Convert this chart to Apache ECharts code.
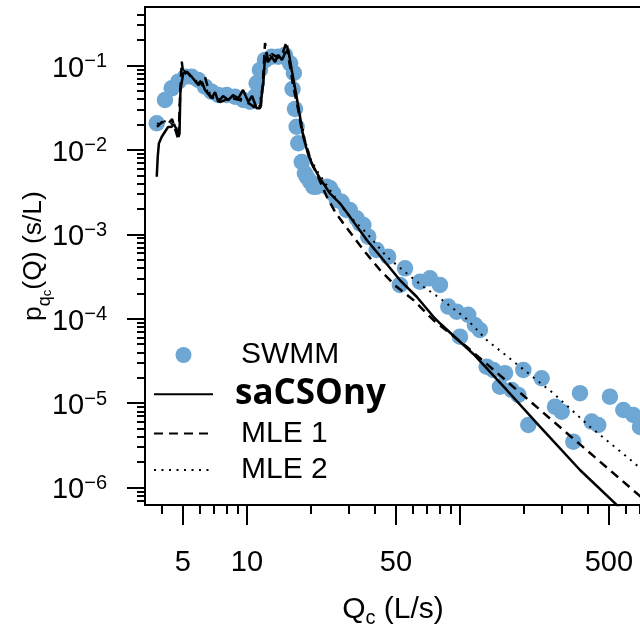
<!DOCTYPE html>
<html>
<head>
<meta charset="utf-8">
<script src="https://cdn.jsdelivr.net/npm/echarts@6/dist/echarts.min.js"></script>
<style>
  html, body { margin: 0; padding: 0; background: #fff; }
  #main { width: 640px; height: 631px; }
</style>
</head>
<body>
<div id="main"></div>
<script>
// axis ranges
const xMin = 3.32, xMax = 1339;
const yMin = 6.2e-7, yMax = 0.4934;

// ticks
const xMajorTicks = [5, 10, 50, 100, 500];
const xLabelValues = [5, 10, 50, 500];
const xMinorTicks = [4, 6, 7, 8, 9, 20, 30, 40, 60, 70, 80, 90, 200, 300, 400, 600, 700, 800, 900];
const yMajorTicks = [1e-1, 1e-2, 1e-3, 1e-4, 1e-5, 1e-6];
const yExponents = ['−1', '−2', '−3', '−4', '−5', '−6'];
const yMinorMantissa = [2, 3, 4, 5, 6, 7, 8, 9];

// SWMM simulated points
const swmmQ = [3.77, 4.12, 4.43, 4.76, 5.12, 5.50, 5.91, 6.35, 6.82, 7.33, 8.03, 8.78, 9.61, 10.33, 10.9, 11.1, 11.5, 12.15, 13.06, 14.03,
  15.07, 15.93, 16.6, 16.36, 16.8, 17.1, 17.4, 18.07, 18.7, 19.1, 19.8, 20.5, 21.2, 23.7, 24.5, 25.4, 26.4, 27.8, 29.4, 30.4,
  32.7, 33.9, 35.2, 37.1, 40.6, 46.0, 52.2, 55.2, 64.9, 72.3, 80.5, 88.1, 96.5, 100, 109.3, 117.5, 124, 133.4, 143.3, 154,
  162.7, 174.9, 187.9, 198.3, 209.3, 241.8, 279.3, 300.3, 340.4, 365.9, 415.3, 445.9, 505.8, 584.6, 651, 700];
const swmmP = [0.0207, 0.039, 0.0537, 0.0643, 0.0736, 0.0736, 0.0673, 0.0561, 0.049, 0.0447, 0.0447, 0.0427, 0.039, 0.0372, 0.0427, 0.0615, 0.0885, 0.116, 0.127, 0.127,
  0.133, 0.106, 0.0815, 0.0527, 0.0305, 0.0188, 0.012, 0.00719, 0.00528, 0.00477, 0.0042, 0.00366, 0.00366, 0.00366, 0.00354, 0.00306, 0.00255, 0.00243, 0.00194, 0.00194,
  0.00155, 0.00135, 0.00129, 0.000938, 0.000652, 0.000543, 0.000251, 0.000395, 0.000274, 0.000301, 0.000251, 0.000139, 0.000121, 0.0000612, 0.000111, 0.0000841, 0.0000734, 0.000027, 0.0000247, 0.0000156,
  0.0000226, 0.0000143, 0.0000125, 0.0000247, 0.0000055, 0.0000197, 0.00000906, 0.00000791, 0.00000349, 0.0000131, 0.00000603, 0.0000055, 0.0000119, 0.00000828, 0.00000723, 0.00000521];

// saCSOny
const sacQ = [3.77, 3.81, 3.86, 3.98, 4.12, 4.26, 4.43, 4.54, 4.68, 4.76, 4.82, 4.87, 5.02, 5.21, 5.50, 5.91, 6.15, 6.35, 6.82, 7.08,
  7.33, 7.72, 8.17, 8.60, 9.10, 9.58, 10.14, 10.56, 11.1, 11.5, 11.93, 12.15, 12.55, 13.06, 13.54, 14.03, 14.59, 15.07, 15.63, 16.22,
  17.1, 17.74, 18.38, 19.4, 20.5, 22.0, 24.5, 27.3, 30.4, 36.5, 43.7, 52.2, 62.6, 74.9, 80.5, 115.5, 165.7, 237.4, 365.9, 544, 780];
const sacP = [0.00481, 0.00831, 0.012, 0.0143, 0.0164, 0.0187, 0.0188, 0.0203, 0.0172, 0.0143, 0.0154, 0.0513, 0.0808, 0.0844, 0.0736, 0.0587, 0.0637, 0.0513, 0.0409, 0.0485,
  0.0372, 0.0435, 0.039, 0.0447, 0.0409, 0.0513, 0.0372, 0.0435, 0.0311, 0.0311, 0.0615, 0.127, 0.110, 0.127, 0.110, 0.133, 0.116, 0.139, 0.153, 0.0885,
  0.0427, 0.0247, 0.0143, 0.0087, 0.00632, 0.00461, 0.00306, 0.00233, 0.00162, 0.000856, 0.000496, 0.000287, 0.000182, 0.000106, 0.0000882, 0.0000382, 0.0000143, 0.00000525, 0.00000161, 0.000000621, 0.000000239];

// MLE 1
const mle1Q = [3.78, 3.99, 4.26, 4.45, 4.64, 4.77, 4.85, 4.94, 5.03, 5.23, 5.52, 5.89, 6.35, 6.71, 7.47, 8.32, 9.27, 10.33, 11.26, 11.63,
  11.89, 12.15, 12.55, 13.1, 13.98, 14.76, 15.36, 15.74, 16.22, 16.5, 17.4, 18.07, 19.07, 20.1, 21.2, 22.4, 23.7, 25.9, 28.3, 35.2,
  42.1, 50.4, 60.4, 74.9, 107.5, 191.3, 365.9, 700, 968];
const mle1P = [0.0187, 0.0214, 0.0203, 0.0232, 0.0163, 0.0131, 0.0447, 0.111, 0.0772, 0.0838, 0.0711, 0.0604, 0.0736, 0.0435, 0.0369, 0.0412, 0.039, 0.035, 0.0297, 0.0331,
  0.0673, 0.185, 0.116, 0.137, 0.123, 0.145, 0.191, 0.116, 0.0736, 0.0561, 0.0297, 0.0172, 0.0109, 0.00693, 0.00528, 0.00384, 0.00279, 0.00185, 0.00135, 0.000652,
  0.000378, 0.000239, 0.000167, 0.0000965, 0.0000466, 0.0000133, 0.00000324, 0.000000791, 0.00000039];

// MLE 2
const mle2Q = [3.78, 4.03, 4.35, 4.59, 4.77, 4.85, 5.01, 5.28, 5.70, 6.21, 6.85, 7.63, 8.50, 9.47, 10.56, 11.38, 11.89, 12.28, 13.1, 14.13,
  15.07, 15.74, 16.27, 16.98, 17.74, 18.7, 19.8, 21.2, 24.5, 29.4, 36.5, 45.3, 56.2, 67.3, 80.5, 107.5, 133.4, 191.3, 274, 407.6,
  606, 869];
const mle2P = [0.0203, 0.022, 0.0214, 0.0182, 0.0146, 0.0485, 0.0885, 0.0793, 0.0673, 0.0571, 0.0435, 0.039, 0.0424, 0.0401, 0.036, 0.0314, 0.0637, 0.145, 0.126, 0.133,
  0.145, 0.13, 0.0838, 0.0435, 0.0259, 0.0131, 0.00802, 0.00578, 0.00335, 0.00177, 0.00103, 0.000543, 0.000345, 0.000239, 0.000175, 0.0000992, 0.000056, 0.000027, 0.0000131, 0.00000525,
  0.00000232, 0.00000107];

const FONT = "'Liberation Sans', Arial, sans-serif";
const BLUE = '#6ea7d3';

function pairs(xs, ys) {
  return xs.map(function (x, i) { return [x, ys[i]]; });
}

const yMinorTicks = [];
for (let k = -7; k <= -1; k++) {
  yMinorMantissa.forEach(function (m) {
    const v = m * Math.pow(10, k);
    if (v > yMin && v < yMax) yMinorTicks.push(v);
  });
}

function yLabel(v) {
  const i = yMajorTicks.findIndex(function (t) {
    return Math.abs(Math.log10(t) - Math.log10(v)) < 1e-6;
  });
  return i < 0 ? '' : '{b|10}{s|' + yExponents[i] + '}';
}

const chart = echarts.init(document.getElementById('main'), null, { renderer: 'canvas' });

const tickStyle = { color: '#000', width: 2 };
// hide the symbol that line series put in their legend icon
const noSymbol = { opacity: 0 };

const option = {
  animation: false,
  backgroundColor: '#fff',
  grid: {
    left: 145, top: 7, width: 555, height: 498,
    outerBoundsMode: 'none', containLabel: false,
    show: true, borderColor: '#000', borderWidth: 2, backgroundColor: 'transparent'
  },
  xAxis: [
    {
      type: 'log', logBase: 10, min: xMin, max: xMax, position: 'bottom',
      axisLine: { show: false },
      splitLine: { show: false },
      axisTick: { show: true, length: 20, lineStyle: tickStyle, customValues: xMajorTicks },
      axisLabel: {
        show: true, customValues: xLabelValues, margin: 43,
        fontFamily: FONT, fontSize: 29, lineHeight: 29, color: '#000',
        formatter: function (v) { return String(Math.round(v)); }
      }
    },
    {
      type: 'log', logBase: 10, min: xMin, max: xMax, position: 'bottom',
      axisLine: { show: false },
      splitLine: { show: false },
      axisTick: { show: true, length: 9, lineStyle: tickStyle, customValues: xMinorTicks },
      axisLabel: { show: false }
    }
  ],
  yAxis: [
    {
      type: 'log', logBase: 10, min: yMin, max: yMax, position: 'left',
      axisLine: { show: false },
      splitLine: { show: false },
      axisTick: { show: true, length: 18, lineStyle: tickStyle, customValues: yMajorTicks },
      axisLabel: {
        show: true, customValues: yMajorTicks, margin: 38,
        padding: [6, 0, 0, 0],
        formatter: yLabel,
        rich: {
          b: { fontFamily: FONT, fontSize: 29, lineHeight: 34, color: '#000' },
          s: { fontFamily: FONT, fontSize: 20, lineHeight: 20, verticalAlign: 'top', color: '#000' }
        }
      }
    },
    {
      type: 'log', logBase: 10, min: yMin, max: yMax, position: 'left',
      axisLine: { show: false },
      splitLine: { show: false },
      axisTick: { show: true, length: 8, lineStyle: tickStyle, customValues: yMinorTicks },
      axisLabel: { show: false }
    }
  ],
  legend: {
    orient: 'vertical', left: 153, top: 340, padding: 0,
    itemWidth: 59, itemHeight: 16, itemGap: 6.7,
    selectedMode: false,
    data: [
      { name: 'SWMM' },
      { name: 'saCSOny', itemStyle: noSymbol },
      { name: 'MLE 1', itemStyle: noSymbol },
      { name: 'MLE 2', itemStyle: noSymbol }
    ],
    formatter: function (name) {
      return name === 'saCSOny' ? '{b|' + name + '}' : '{n|' + name + '}';
    },
    textStyle: {
      fontFamily: FONT, fontSize: 30, lineHeight: 30, color: '#000',
      rich: {
        n: { fontFamily: FONT, fontSize: 30, lineHeight: 30, color: '#000', padding: [0, 0, 0, 23] },
        b: { fontFamily: "'Open Sans', sans-serif", fontWeight: 'bold', fontSize: 35, lineHeight: 30, color: '#000', padding: [0, 0, 0, 17] }
      }
    }
  },
  graphic: [
    {
      type: 'text', x: 393, y: 610,
      style: {
        text: '{m|Q}{s|c}{m| (L/s)}',
        align: 'center', verticalAlign: 'middle',
        rich: {
          m: { fontFamily: FONT, fontSize: 30, lineHeight: 36, fill: '#000' },
          s: { fontFamily: FONT, fontSize: 20, lineHeight: 20, verticalAlign: 'bottom', fill: '#000' }
        }
      }
    },
    {
      type: 'text', x: 34, y: 256, rotation: Math.PI / 2,
      style: {
        text: '{m|p}{s|q}{ss|c}{m|(Q) (s/L)}',
        align: 'center', verticalAlign: 'middle',
        rich: {
          m: { fontFamily: FONT, fontSize: 26.5, lineHeight: 40, fill: '#000' },
          s: { fontFamily: FONT, fontSize: 18, lineHeight: 26, verticalAlign: 'bottom', fill: '#000' },
          ss: { fontFamily: FONT, fontSize: 13, lineHeight: 14, verticalAlign: 'bottom', fill: '#000' }
        }
      }
    }
  ],
  series: [
    {
      name: 'SWMM', type: 'scatter', symbol: 'circle', symbolSize: 16.5,
      itemStyle: { color: BLUE, opacity: 1 },
      data: pairs(swmmQ, swmmP)
    },
    {
      name: 'saCSOny', type: 'line', symbol: 'none', showSymbol: false,
      lineStyle: { color: '#000', width: 2.5, type: 'solid' },
      itemStyle: { color: '#000' },
      data: pairs(sacQ, sacP)
    },
    {
      name: 'MLE 1', type: 'line', symbol: 'none', showSymbol: false,
      lineStyle: { color: '#000', width: 2.5, type: [9, 6] },
      itemStyle: { color: '#000' },
      data: pairs(mle1Q, mle1P)
    },
    {
      name: 'MLE 2', type: 'line', symbol: 'none', showSymbol: false,
      lineStyle: { color: '#000', width: 2, type: [2, 5.5] },
      itemStyle: { color: '#000' },
      data: pairs(mle2Q, mle2P)
    }
  ]
};

chart.setOption(option);
</script>
</body>
</html>
